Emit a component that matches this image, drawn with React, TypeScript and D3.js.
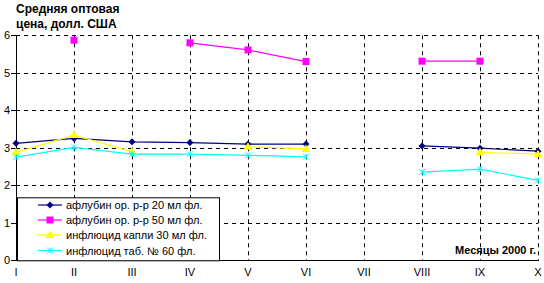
import React from "react";
import * as d3 from "d3";

const months = ["I", "II", "III", "IV", "V", "VI", "VII", "VIII", "IX", "X"];
const aflubin20: (number | null)[] = [3.12, 3.25, 3.16, 3.14, 3.1, 3.1, null, 3.05, 2.99, 2.91];
const aflubin50: (number | null)[] = [null, 5.87, null, 5.8, 5.61, 5.3, null, 5.31, 5.31, null];
const influcidDrops: (number | null)[] = [2.88, 3.34, 2.9, null, 3.03, 2.97, null, null, 2.88, 2.83];
const influcidTabs: (number | null)[] = [2.75, 3.01, 2.83, 2.83, 2.8, 2.76, null, 2.35, 2.43, 2.13];
const yTicks = [0, 1, 2, 3, 4, 5, 6];
const seriesNames = [
  "афлубин ор. р-р 20 мл фл.",
  "афлубин ор. р-р 50 мл фл.",
  "инфлюцид капли 30 мл фл.",
  "инфлюцид таб. № 60 фл.",
];
const titleLines = ["Средняя оптовая", "цена, долл. США"];
const xTitle = "Месяцы 2000 г.";

const colors = ["#000080", "#FF00FF", "#FFFF00", "#00FFFF"];
const markers = ["diamond", "square", "triangle", "star"];

const W = 544, H = 283;
const left = 16, right = 538, top = 35.3, bottom = 260.3;
const font = "'Liberation Sans', Arial, sans-serif";

function Marker({ type, x, y, color }: { type: string; x: number; y: number; color: string }) {
  if (type === "diamond") {
    const s = 3.2;
    return <path d={`M${x},${y - s}L${x + s},${y}L${x},${y + s}L${x - s},${y}Z`} fill={color} stroke={color} strokeWidth={0.6} />;
  }
  if (type === "square") {
    return <rect x={x - 3.5} y={y - 3.5} width={7} height={7} fill={color} />;
  }
  if (type === "triangle") {
    return <path d={`M${x},${y - 4.5}L${x + 4.5},${y + 3}L${x - 4.5},${y + 3}Z`} fill={color} />;
  }
  const s = 3;
  return (
    <g stroke={color} strokeWidth={1}>
      <line x1={x - s} y1={y - s} x2={x + s} y2={y + s} />
      <line x1={x - s} y1={y + s} x2={x + s} y2={y - s} />
      <line x1={x} y1={y - s} x2={x} y2={y + s} />
    </g>
  );
}

export default function App() {
  const x = d3.scalePoint<string>().domain(months).range([left, right]);
  const y = d3.scaleLinear().domain([0, 6]).range([bottom, top]);
  const all = [aflubin20, aflubin50, influcidDrops, influcidTabs];
  const line = d3
    .line<number | null>()
    .defined((d) => d !== null)
    .x((_, i) => x(months[i])!)
    .y((d) => y(d as number));

  const legX = 17, legY = 197.3, legW = 202, legH = bottom - 197.3;
  const rowY = [205, 220, 235, 250.5];

  return (
    <svg width={W} height={H} style={{ position: "absolute", left: 0, top: 0, background: "#fff" }} fontFamily={font}>
      {yTicks.filter((t) => t > 0).map((t) => (
        <line key={"h" + t} x1={left} x2={right} y1={Math.round(y(t)) + 0.5} y2={Math.round(y(t)) + 0.5} stroke="#000" strokeDasharray="4,4" />
      ))}
      {months.slice(1).map((m) => (
        <line key={"v" + m} x1={Math.round(x(m)!) + 0.5} x2={Math.round(x(m)!) + 0.5} y1={top} y2={bottom} stroke="#000" strokeDasharray="4,4" />
      ))}
      <line x1={left + 0.5} x2={left + 0.5} y1={top} y2={bottom} stroke="#000" />
      <line x1={left} x2={right + 1} y1={Math.round(bottom) + 0.5} y2={Math.round(bottom) + 0.5} stroke="#000" />
      {yTicks.map((t) => (
        <g key={"yt" + t}>
          <line x1={11} x2={left} y1={Math.round(y(t)) + 0.5} y2={Math.round(y(t)) + 0.5} stroke="#000" />
          <text x={7} y={y(t) + 4} fontSize={11} textAnchor="middle">{t}</text>
        </g>
      ))}
      {months.map((m) => (
        <text key={"xt" + m} x={x(m)!} y={276} fontSize={11} textAnchor="middle">{m}</text>
      ))}
      {all.map((s, i) => (
        <g key={"s" + i}>
          <path d={line(s) || ""} fill="none" stroke={colors[i]} strokeWidth={1.2} />
          {s.map((v, j) => v === null ? null : (
            <Marker key={j} type={markers[i]} x={x(months[j])!} y={y(v)} color={colors[i]} />
          ))}
        </g>
      ))}
      <rect x={legX + 0.5} y={legY + 0.5} width={legW} height={legH} fill="#fff" stroke="#000" />
      {seriesNames.map((n, i) => (
        <g key={"l" + i}>
          <line x1={38} x2={62} y1={rowY[i]} y2={rowY[i]} stroke={colors[i]} strokeWidth={1.2} />
          <Marker type={markers[i]} x={50} y={rowY[i]} color={colors[i]} />
          <text x={66} y={rowY[i] + 4} fontSize={11}>{n}</text>
        </g>
      ))}
      {titleLines.map((t, i) => (
        <text key={"t" + i} x={16} y={13 + i * 15} fontSize={12} fontWeight="bold">{t}</text>
      ))}
      <text x={536} y={254} fontSize={11} fontWeight="bold" textAnchor="end">{xTitle}</text>
    </svg>
  );
}
